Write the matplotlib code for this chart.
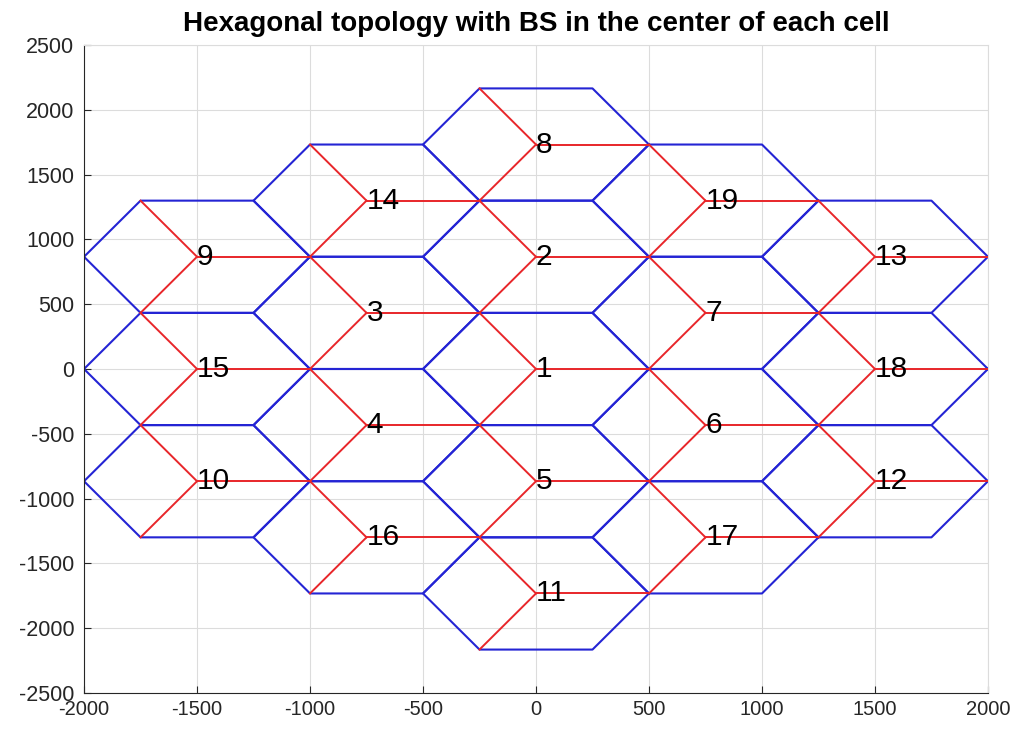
import numpy as np
import matplotlib
matplotlib.use('Agg')
import matplotlib.pyplot as plt

plt.rcParams['font.family'] = ['Liberation Sans', 'DejaVu Sans']
plt.rcParams['axes.unicode_minus'] = False

# cell radius (m) and BS positions
R = 500
h = R * np.sqrt(3) / 2
cell_id = list(range(1, 20))
cell_x = [0, 0, -750, -750, 0, 750, 750, 0, -1500, -1500,
          0, 1500, 1500, -750, -1500, -750, 750, 1500, 750]
cell_y_steps = [0, 2, 1, -1, -2, -1, 1, 4, 2, -2,
                -4, -2, 2, 3, 0, -3, -3, 0, 3]
cell_y = [s * h for s in cell_y_steps]

x_ticks = [-2000, -1500, -1000, -500, 0, 500, 1000, 1500, 2000]
y_ticks = [-2500, -2000, -1500, -1000, -500, 0, 500, 1000, 1500, 2000, 2500]

blue = '#2424d4'
red = '#e8262a'

fig = plt.figure(figsize=(10.16, 7.33), dpi=100)
ax = fig.add_axes([0.0827, 0.0546, 0.8897, 0.884])

ang = np.deg2rad(np.arange(0, 361, 60))
for cid, x0, y0 in zip(cell_id, cell_x, cell_y):
    # hexagon outline
    ax.plot(x0 + R * np.cos(ang), y0 + R * np.sin(ang), color=blue, lw=1.5, zorder=2)
    # sector lines from the BS to three vertices
    for a in (0, 120, 240):
        t = np.deg2rad(a)
        ax.plot([x0, x0 + R * np.cos(t)], [y0, y0 + R * np.sin(t)],
                color=red, lw=1.4, zorder=3)
    ax.text(x0, y0, str(cid), ha='left', va='center', fontsize=21.5,
            color='black', zorder=4)

ax.set_xlim(-2000, 2000)
ax.set_ylim(-2500, 2500)
ax.set_xticks(x_ticks)
ax.set_yticks(y_ticks)
ax.tick_params(direction='in', length=5, colors='#262626')
ax.tick_params(axis='x', labelsize=14.5, pad=5)
ax.tick_params(axis='y', labelsize=15.5, pad=7)
ax.grid(True, color='#dcdcdc', lw=0.8)
ax.set_axisbelow(True)
for s in ('left', 'bottom'):
    ax.spines[s].set_color('#262626')
for s in ('top', 'right'):
    ax.spines[s].set_color('#dcdcdc')

ax.set_title('Hexagonal topology with BS in the center of each cell',
             fontsize=20, fontweight='bold', pad=10)

fig.savefig('out.png', dpi=100)
